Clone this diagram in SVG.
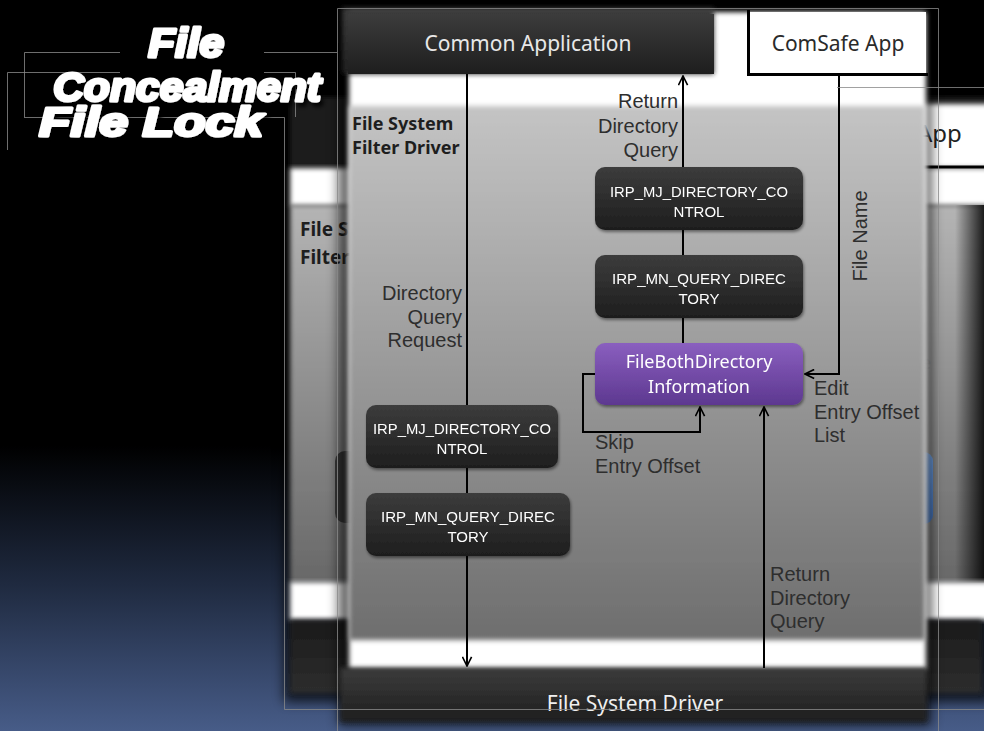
<svg xmlns="http://www.w3.org/2000/svg" width="984" height="731" viewBox="0 0 984 731">
<defs>
  <linearGradient id="bg" x1="0" y1="0" x2="0" y2="1">
    <stop offset="0" stop-color="#000"/>
    <stop offset="0.61" stop-color="#000"/>
    <stop offset="0.8" stop-color="#1f2a40"/>
    <stop offset="1" stop-color="#475c88"/>
  </linearGradient>
  <linearGradient id="grayF" x1="0" y1="0" x2="0" y2="1">
    <stop offset="0" stop-color="#c4c4c4"/>
    <stop offset="1" stop-color="#6e6e6e"/>
  </linearGradient>
  <linearGradient id="grayB" x1="0" y1="0" x2="0" y2="1">
    <stop offset="0" stop-color="#b4b4b4"/>
    <stop offset="1" stop-color="#686868"/>
  </linearGradient>
  <linearGradient id="dark" x1="0" y1="0" x2="0" y2="1">
    <stop offset="0" stop-color="#3c3c3c"/>
    <stop offset="1" stop-color="#1e1e1e"/>
  </linearGradient>
  <linearGradient id="darkBand" x1="0" y1="0" x2="0" y2="1">
    <stop offset="0" stop-color="#1a1a1a"/>
    <stop offset="1" stop-color="#2e2e2e"/>
  </linearGradient>
  <linearGradient id="purple" x1="0" y1="0" x2="0" y2="1">
    <stop offset="0" stop-color="#8a5fbf"/>
    <stop offset="1" stop-color="#5d3890"/>
  </linearGradient>
  <linearGradient id="blue" x1="0" y1="0" x2="0" y2="1">
    <stop offset="0" stop-color="#6d9cdc"/>
    <stop offset="1" stop-color="#3f6fb6"/>
  </linearGradient>
  <linearGradient id="edgeR" x1="0" y1="0" x2="1" y2="0">
    <stop offset="0" stop-color="#000" stop-opacity="0"/>
    <stop offset="1" stop-color="#000" stop-opacity="0.85"/>
  </linearGradient>
  <filter id="soft" x="-10%" y="-10%" width="120%" height="120%"><feGaussianBlur stdDeviation="2.5"/></filter>
  <filter id="shadow" x="-10%" y="-10%" width="120%" height="120%"><feGaussianBlur stdDeviation="6"/></filter>
  <filter id="tshadow" x="-10%" y="-20%" width="130%" height="160%"><feDropShadow dx="3" dy="4" stdDeviation="2" flood-color="#000" flood-opacity="0.9"/></filter>
  <filter id="bshadow" x="-10%" y="-10%" width="120%" height="130%"><feDropShadow dx="1" dy="2" stdDeviation="1.5" flood-color="#000" flood-opacity="0.45"/></filter>
  <marker id="arr" viewBox="0 0 12 12" refX="11" refY="6" markerWidth="11" markerHeight="11" markerUnits="userSpaceOnUse" orient="auto">
    <path d="M1,1 L11,6 L1,11" fill="none" stroke="#000" stroke-width="1.8"/>
  </marker>
  <style>
    .lbl { font-family: "Liberation Sans", Arial, sans-serif; font-size: 20px; fill: #2e2e2e; }
    .box { font-family: "Liberation Sans", Arial, sans-serif; font-size: 15px; fill: #fff; text-anchor: middle; }
    .pbox { font-family: "Noto Sans", "Open Sans", sans-serif; font-size: 18px; fill: #fff; text-anchor: middle; }
    .big { font-family: "Noto Sans", "Open Sans", sans-serif; font-size: 21px; text-anchor: middle; }
    .conn { fill: none; stroke: #000; stroke-width: 2; }
    .frame { fill: none; stroke: #8a8a8a; stroke-width: 1; opacity: 0.8; }
    .title { font-family: "Liberation Sans", Arial, sans-serif; font-weight: bold; font-style: italic; font-size: 40px; fill: #fff; stroke: #fff; stroke-width: 3; stroke-linejoin: round; }
    .ibox { fill: url(#dark); }
    .fsf { font-family: "Noto Sans", "Open Sans", sans-serif; font-size: 18px; font-weight: bold; fill: #1e1e1e; }
    .bk { font-family: "Noto Sans", "Open Sans", sans-serif; font-size: 19px; font-weight: bold; fill: #1e1e1e; }
  </style>
</defs>

<rect id="slide-bg" x="0" y="0" width="984" height="731" fill="url(#bg)"/>

<!-- back screenshot -->
<g id="back-shot">
  <rect x="284" y="90" width="710" height="612" fill="#000" opacity="0.7" filter="url(#shadow)"/>
  <rect x="290" y="97" width="700" height="72" fill="#1c1c1c" filter="url(#soft)"/>
  <rect x="916" y="104" width="80" height="64" fill="#fff" filter="url(#soft)"/>
  <rect x="290" y="168" width="700" height="38" fill="#fff" filter="url(#soft)"/>
  <rect x="290" y="205" width="700" height="378" fill="url(#grayB)" filter="url(#soft)"/>
  <rect x="955" y="205" width="29" height="378" fill="url(#edgeR)"/>
  <rect x="290" y="582" width="700" height="38" fill="#fff" filter="url(#soft)"/>
  <rect x="290" y="620" width="692" height="73" fill="url(#darkBand)" filter="url(#soft)"/>
  <line x1="912" y1="167" x2="984" y2="167" stroke="#000" stroke-width="3"/>
  <rect x="335" y="451" width="80" height="72" rx="10" fill="#3a3a3a"/>
  <rect x="860" y="452" width="73" height="72" rx="9" fill="url(#blue)"/>
  <text x="917" y="142" font-family="Noto Sans, sans-serif" font-size="24" fill="#222">App</text>
  <text class="bk" x="300" y="236">File S</text>
  <text class="bk" x="300" y="264">Filter</text>
  <text x="921" y="369" font-family="Noto Sans, sans-serif" font-size="18" fill="#8a8a8a">e</text>
</g>

<!-- front screenshot base -->
<g id="front-shot">
  <rect x="338" y="6" width="594" height="720" fill="#000" opacity="0.6" filter="url(#shadow)"/>
  <rect x="349" y="12" width="577" height="657" fill="#fff" filter="url(#soft)"/>
  <rect x="349" y="106" width="576" height="534" fill="url(#grayF)" filter="url(#soft)"/>
</g>

<g id="common-application">
  <rect x="342" y="8" width="372" height="66" fill="url(#dark)" filter="url(#soft)"/>
  <rect x="348" y="14" width="366" height="60" fill="url(#dark)"/>
  <text class="big" x="528" y="51" fill="#e8e8e8">Common Application</text>
</g>

<g id="comsafe-app">
  <rect x="748" y="12" width="178" height="62" fill="#fff"/>
  <path d="M748.5,10 V74.5 H928" fill="none" stroke="#000" stroke-width="3"/>
  <text class="big" x="838" y="51" fill="#2a2a2a">ComSafe App</text>
</g>

<g id="fs-filter-driver-label">
  <text class="fsf" x="352" y="130">File System</text>
  <text class="fsf" x="352" y="154">Filter Driver</text>
</g>

<g id="file-system-driver">
  <rect x="340" y="668" width="587" height="54" fill="url(#dark)" filter="url(#soft)"/>
  <text class="big" x="635" y="711" fill="#f0f0f0" font-size="22">File System Driver</text>
</g>

<!-- connectors -->
<g id="connectors">
  <path class="conn" d="M467,74 V666" marker-end="url(#arr)"/>
  <path class="conn" d="M683,343 V76" marker-end="url(#arr)"/>
  <path class="conn" d="M597,374 H583 V432 H700 V407" marker-end="url(#arr)"/>
  <path class="conn" d="M839,74 V374 H805" marker-end="url(#arr)"/>
  <path class="conn" d="M764,668 V407" marker-end="url(#arr)"/>
</g>

<g id="connector-labels">
  <text class="lbl" x="678" y="108" text-anchor="end">Return</text>
  <text class="lbl" x="678" y="133" text-anchor="end">Directory</text>
  <text class="lbl" x="678" y="157" text-anchor="end">Query</text>
  <text class="lbl" x="462" y="300" text-anchor="end">Directory</text>
  <text class="lbl" x="462" y="324" text-anchor="end">Query</text>
  <text class="lbl" x="462" y="347" text-anchor="end">Request</text>
  <text class="lbl" x="595" y="449">Skip</text>
  <text class="lbl" x="595" y="473">Entry Offset</text>
  <text class="lbl" x="814" y="395">Edit</text>
  <text class="lbl" x="814" y="419">Entry Offset</text>
  <text class="lbl" x="814" y="442">List</text>
  <text class="lbl" x="770" y="581">Return</text>
  <text class="lbl" x="770" y="605">Directory</text>
  <text class="lbl" x="770" y="628">Query</text>
  <text class="lbl" transform="translate(867,236) rotate(-90)" text-anchor="middle">File Name</text>
</g>

<g id="irp-mj-right" filter="url(#bshadow)">
  <rect class="ibox" x="595" y="167" width="208" height="63" rx="10"/>
  <text class="box" x="699" y="197" textLength="178" lengthAdjust="spacingAndGlyphs">IRP_MJ_DIRECTORY_CO</text>
  <text class="box" x="699" y="217">NTROL</text>
</g>
<g id="irp-mn-right" filter="url(#bshadow)">
  <rect class="ibox" x="595" y="255" width="208" height="63" rx="10"/>
  <text class="box" x="699" y="284" textLength="174" lengthAdjust="spacingAndGlyphs">IRP_MN_QUERY_DIREC</text>
  <text class="box" x="699" y="304">TORY</text>
</g>
<g id="file-both-directory-information" filter="url(#bshadow)">
  <rect x="595" y="343" width="208" height="62" rx="10" fill="url(#purple)"/>
  <text class="pbox" x="699" y="368">FileBothDirectory</text>
  <text class="pbox" x="699" y="393">Information</text>
</g>
<g id="irp-mj-left" filter="url(#bshadow)">
  <rect class="ibox" x="366" y="405" width="192" height="63" rx="10"/>
  <text class="box" x="462" y="434" textLength="178" lengthAdjust="spacingAndGlyphs">IRP_MJ_DIRECTORY_CO</text>
  <text class="box" x="462" y="454">NTROL</text>
</g>
<g id="irp-mn-left" filter="url(#bshadow)">
  <rect class="ibox" x="366" y="493" width="204" height="63" rx="10"/>
  <text class="box" x="468" y="522" textLength="174" lengthAdjust="spacingAndGlyphs">IRP_MN_QUERY_DIREC</text>
  <text class="box" x="468" y="542">TORY</text>
</g>

<!-- thin frame lines -->
<g id="frames">
  <path class="frame" d="M337.5,731 V8.5 H938.5 V731"/>
  <path class="frame" d="M24.5,117 V52.5 H120 M264,52.5 H337"/>
  <path class="frame" d="M7.5,150 V72.5 H120 M264,72.5 H295.5 V117"/>
  <path class="frame" d="M24,117.5 H284.5 V709.5 H984"/>
  <path class="frame" d="M837,87.5 H984"/>
</g>

<!-- title -->
<g id="title" filter="url(#tshadow)">
  <text class="title" x="148" y="57" textLength="76" lengthAdjust="spacingAndGlyphs">File</text>
  <text class="title" x="53" y="101" textLength="268" lengthAdjust="spacingAndGlyphs">Concealment</text>
  <text class="title" x="39" y="136" textLength="224" lengthAdjust="spacingAndGlyphs">File Lock</text>
</g>
</svg>
